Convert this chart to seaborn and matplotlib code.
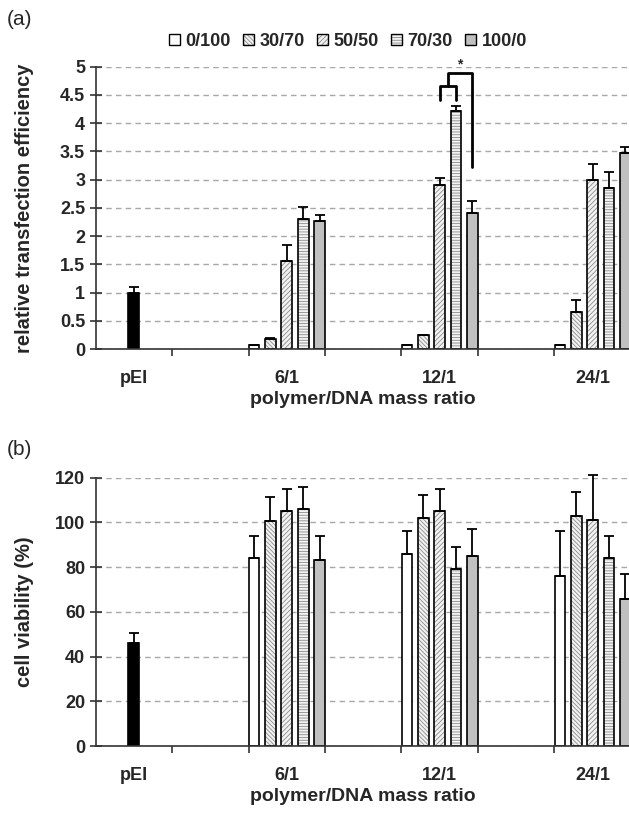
import numpy as np
import pandas as pd
import matplotlib
matplotlib.use("Agg")
import matplotlib.pyplot as plt
import matplotlib.patches as mpatches
import matplotlib.colors as mcolors
import seaborn as sns

# data
ratios = ["6/1", "12/1", "24/1"]
blends = ["0/100", "30/70", "50/50", "70/30", "100/0"]
order = ["pEI", " ", "6/1", "  ", "12/1", "   ", "24/1"]

# (a) relative transfection efficiency, one row per ratio
eff = [[0.065, 0.18, 1.55, 2.31, 2.27],
       [0.065, 0.25, 2.91, 4.21, 2.41],
       [0.065, 0.66, 2.99, 2.85, 3.47]]
eff_err = [[0.0, 0.02, 0.29, 0.21, 0.11],
           [0.0, 0.0, 0.11, 0.10, 0.21],
           [0.0, 0.21, 0.29, 0.28, 0.10]]
pei_eff = 1.0
pei_eff_err = 0.09

# (b) cell viability (%)
via = [[84.2, 100.7, 105.1, 106.1, 83.2],
       [86.1, 101.8, 105.1, 79.0, 85.1],
       [76.0, 102.8, 100.9, 84.1, 65.9]]
via_err = [[9.8, 10.5, 9.7, 9.7, 10.8],
           [10.0, 10.4, 9.7, 9.8, 12.1],
           [20.1, 10.6, 20.3, 9.9, 11.0]]
pei_via = 46.2
pei_via_err = 4.3

# significance bracket levels in (a)
inner_top, inner_leg = 4.65, 4.41
outer_top, outer_leg = 4.88, 3.23

face = {"0/100": "white", "30/70": "#f2f2f2", "50/50": "#f2f2f2",
        "70/30": "#f2f2f2", "100/0": "#c0c0c0"}
hatches = {"0/100": "", "30/70": "\\\\\\\\\\\\\\\\", "50/50": "///////",
           "70/30": "------", "100/0": ""}
hatch_col = mcolors.to_rgba("0.55")

sns.set_theme(style="white")
plt.rcParams["font.family"] = ["Liberation Sans", "DejaVu Sans"]
plt.rcParams["font.weight"] = "bold"
plt.rcParams["hatch.linewidth"] = 0.6


def set_hatch(p, h):
    p.set_hatch(h)
    if hasattr(p, "set_hatchcolor"):
        p.set_hatchcolor(hatch_col)
    else:
        p._hatch_color = hatch_col


def long_df(vals, errs):
    rows = []
    for r, vrow, erow in zip(ratios, vals, errs):
        for b, v, e in zip(blends, vrow, erow):
            rows.append({"ratio": r, "blend": b, "value": v, "err": e})
    return pd.DataFrame(rows)


def draw_panel(ax, df, pei_val, pei_err, ymax, ystep, ylabel):
    sns.barplot(data=df, x="ratio", y="value", hue="blend", order=order,
                hue_order=blends, palette=face, saturation=1, width=1.07,
                gap=0.345, edgecolor="black", linewidth=1.2, errorbar=None,
                legend=False, ax=ax)
    bars = list(ax.containers)
    for cont, b in zip(bars, blends):
        sub = df[df.blend == b].set_index("ratio").loc[ratios]
        for p in cont:
            set_hatch(p, hatches[b])
        x = [p.get_x() + p.get_width() / 2 for p in cont]
        y = [p.get_height() for p in cont]
        ax.errorbar(x, y, yerr=[np.zeros(len(y)), sub["err"].values],
                    fmt="none", ecolor="black", elinewidth=1.3, capsize=3.3,
                    capthick=1.3, clip_on=False, zorder=3)

    sns.barplot(x=["pEI"], y=[pei_val], order=order, color="black",
                saturation=1, width=0.14, edgecolor="black", linewidth=1.2,
                errorbar=None, ax=ax)
    pb = ax.containers[-1][0]
    ax.errorbar([pb.get_x() + pb.get_width() / 2], [pb.get_height()],
                yerr=[[0], [pei_err]], fmt="none", ecolor="black",
                elinewidth=1.3, capsize=3.3, capthick=1.3, zorder=3)

    ax.set_xlim(-0.5, len(order) - 0.5)
    ax.set_ylim(0, ymax)
    ticks = np.arange(0, ymax + ystep / 2, ystep)
    ax.set_yticks(ticks)
    ax.set_yticklabels([f"{t:g}" for t in ticks])
    ax.set_xticks(np.arange(0.5, len(order) - 1, 1.0), minor=True)
    ax.tick_params(axis="x", which="major", length=0, pad=15, labelsize=13)
    ax.tick_params(axis="x", which="minor", bottom=True, direction="out",
                   length=5, width=1.2, color="#333333")
    ax.tick_params(axis="y", left=True, direction="inout", length=9,
                   width=1.2, color="#333333", labelsize=13, pad=3)
    ax.yaxis.grid(True, linestyle=(0, (4, 3)), color="#a8a8a8", linewidth=1.0)
    ax.set_axisbelow(True)
    for s in ["top", "right"]:
        ax.spines[s].set_visible(False)
    for s in ["left", "bottom"]:
        ax.spines[s].set_color("#333333")
        ax.spines[s].set_linewidth(1.2)
    ax.set_xlabel("polymer/DNA mass ratio", fontsize=14, fontweight="bold",
                  labelpad=3)
    ax.set_ylabel(ylabel, fontsize=14.5, fontweight="bold")
    ax.yaxis.set_label_coords(-0.115, 0.5)
    return bars


fig = plt.figure(figsize=(6.29, 8.13), dpi=100)
ax1 = fig.add_axes([0.152, 0.5707, 0.851, 0.3473])
ax2 = fig.add_axes([0.152, 0.0824, 0.851, 0.3300])

bars = draw_panel(ax1, long_df(eff, eff_err), pei_eff, pei_eff_err, 5, 0.5,
                  "relative transfection efficiency")
draw_panel(ax2, long_df(via, via_err), pei_via, pei_via_err, 120, 20,
           "cell viability (%)")

# significance brackets over 12/1
def cx(p):
    return p.get_x() + p.get_width() / 2

a, b, c = cx(bars[2][1]), cx(bars[3][1]), cx(bars[4][1])
mid = (a + b) / 2
ax1.plot([a, a, b, b], [inner_leg, inner_top, inner_top, inner_leg],
         color="black", lw=2, clip_on=False, zorder=4)
ax1.plot([mid, mid, c, c], [inner_top, outer_top, outer_top, outer_leg],
         color="black", lw=2, clip_on=False, zorder=4)
ax1.text((mid + c) / 2, outer_top + 0.04, "*", ha="center", va="bottom",
         fontsize=10, fontweight="bold")

handles = [mpatches.Patch(facecolor=face[bl], edgecolor="black", linewidth=1.0)
           for bl in blends]
for h, bl in zip(handles, blends):
    set_hatch(h, hatches[bl])
fig.legend(handles=handles, labels=blends, loc="center", ncol=5,
           bbox_to_anchor=(0.553, 0.949), frameon=False, fontsize=13,
           handlelength=0.6, handleheight=0.6, handletextpad=0.3,
           columnspacing=0.7, borderaxespad=0)

fig.text(0.011, 0.988, "(a)", fontsize=15, fontweight="normal", va="top")
fig.text(0.011, 0.459, "(b)", fontsize=15, fontweight="normal", va="top")

fig.savefig("out.png", dpi=100)
